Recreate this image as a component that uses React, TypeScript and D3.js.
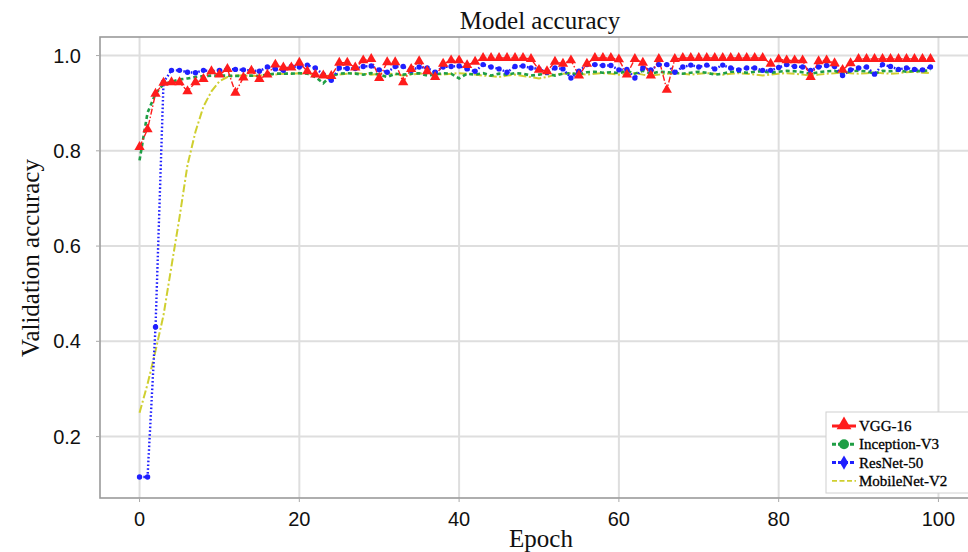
import React from 'react';
import * as d3 from 'd3';

// validation accuracy per epoch
const vgg16 = [
  0.808, 0.845, 0.92, 0.943, 0.944, 0.944, 0.925, 0.944, 0.951, 0.967,
  0.96, 0.972, 0.922, 0.954, 0.968, 0.951, 0.96, 0.981, 0.975, 0.975,
  0.985, 0.967, 0.96, 0.958, 0.957, 0.985, 0.985, 0.975, 0.99, 0.993,
  0.953, 0.986, 0.986, 0.944, 0.972, 0.988, 0.967, 0.955, 0.983, 0.99,
  0.99, 0.98, 0.987, 0.995, 0.995, 0.995, 0.995, 0.995, 0.995, 0.993,
  0.97, 0.967, 0.987, 0.983, 0.99, 0.958, 0.983, 0.995, 0.995, 0.995,
  0.992, 0.96, 0.993, 0.985, 0.958, 0.993, 0.928, 0.993, 0.995, 0.995,
  0.995, 0.995, 0.995, 0.995, 0.995, 0.995, 0.995, 0.995, 0.995, 0.983,
  0.992, 0.99, 0.99, 0.99, 0.955, 0.988, 0.99, 0.984, 0.97, 0.984,
  0.993, 0.993, 0.993, 0.993, 0.993, 0.993, 0.993, 0.993, 0.993, 0.993,
];

const inceptionV3 = [
  0.78, 0.88, 0.92, 0.94, 0.945, 0.95, 0.952, 0.955, 0.957, 0.958,
  0.958, 0.958, 0.957, 0.958, 0.958, 0.957, 0.96, 0.962, 0.962, 0.962,
  0.963, 0.962, 0.955, 0.942, 0.958, 0.962, 0.963, 0.962, 0.96, 0.963,
  0.96, 0.955, 0.962, 0.96, 0.962, 0.963, 0.958, 0.96, 0.963, 0.962,
  0.952, 0.962, 0.96, 0.963, 0.958, 0.962, 0.96, 0.963, 0.962, 0.958,
  0.96, 0.962, 0.958, 0.962, 0.963, 0.96, 0.965, 0.966, 0.964, 0.965,
  0.963, 0.968, 0.962, 0.968, 0.962, 0.966, 0.965, 0.964, 0.962, 0.964,
  0.966, 0.964, 0.96, 0.962, 0.966, 0.966, 0.964, 0.966, 0.967, 0.964,
  0.966, 0.968, 0.967, 0.965, 0.962, 0.965, 0.967, 0.968, 0.962, 0.967,
  0.968, 0.967, 0.962, 0.968, 0.967, 0.969, 0.966, 0.968, 0.967, 0.97,
];

const resNet50 = [
  0.115, 0.115, 0.43, 0.944, 0.969, 0.969, 0.965, 0.964, 0.969, 0.967,
  0.969, 0.972, 0.971, 0.97, 0.969, 0.967, 0.976, 0.972, 0.969, 0.977,
  0.976, 0.98, 0.974, 0.96, 0.948, 0.974, 0.973, 0.973, 0.977, 0.978,
  0.97, 0.965, 0.977, 0.977, 0.969, 0.976, 0.974, 0.965, 0.976, 0.977,
  0.978, 0.972, 0.967, 0.981, 0.976, 0.972, 0.965, 0.977, 0.978, 0.974,
  0.972, 0.965, 0.974, 0.972, 0.953, 0.967, 0.981, 0.981, 0.979, 0.979,
  0.97, 0.971, 0.953, 0.974, 0.97, 0.981, 0.981, 0.965, 0.976, 0.98,
  0.976, 0.98, 0.972, 0.98, 0.974, 0.97, 0.974, 0.974, 0.969, 0.969,
  0.975, 0.981, 0.977, 0.976, 0.969, 0.976, 0.979, 0.977, 0.958, 0.97,
  0.974, 0.976, 0.961, 0.981, 0.977, 0.971, 0.974, 0.971, 0.97, 0.976,
];

const mobileNetV2 = [
  0.25, 0.31, 0.38, 0.455, 0.558, 0.66, 0.77, 0.84, 0.893, 0.925,
  0.946, 0.955, 0.958, 0.958, 0.957, 0.958, 0.96, 0.96, 0.962, 0.962,
  0.963, 0.962, 0.96, 0.958, 0.957, 0.96, 0.962, 0.963, 0.962, 0.96,
  0.962, 0.963, 0.96, 0.958, 0.96, 0.962, 0.963, 0.962, 0.96, 0.962,
  0.963, 0.962, 0.96, 0.958, 0.957, 0.955, 0.958, 0.96, 0.957, 0.955,
  0.952, 0.955, 0.96, 0.962, 0.963, 0.962, 0.96, 0.962, 0.963, 0.962,
  0.96, 0.962, 0.963, 0.96, 0.958, 0.96, 0.962, 0.963, 0.962, 0.96,
  0.962, 0.963, 0.962, 0.96, 0.962, 0.963, 0.962, 0.96, 0.958, 0.96,
  0.962, 0.963, 0.962, 0.96, 0.958, 0.96, 0.962, 0.963, 0.965, 0.963,
  0.962, 0.963, 0.965, 0.963, 0.962, 0.963, 0.965, 0.966, 0.964, 0.963,
];

const xTicks = [0, 20, 40, 60, 80, 100];
const yTicks = [0.2, 0.4, 0.6, 0.8, 1.0];
const seriesNames = ['VGG-16', 'Inception-V3', 'ResNet-50', 'MobileNet-V2'];

const W = 968;
const H = 552;
const plot = { left: 100, top: 37, right: 970, bottom: 498 };
const serif = '"Liberation Serif", "Times New Roman", serif';
const sans = '"Liberation Sans", Arial, sans-serif';

const styles = [
  { color: '#ff1c1c', width: 1.4, dash: '6,2,1.5,2', marker: 'triangle' },
  { color: '#1f9e45', width: 2.6, dash: '4,3', marker: 'circle' },
  { color: '#2020ff', width: 2.4, dash: '1.6,2.2', marker: 'diamond' },
  { color: '#cfcf30', width: 2, dash: '8,2.5,2,2.5', marker: 'none' },
];

export default function App() {
  const x = d3.scaleLinear().domain([-4.95, 103.95]).range([plot.left, plot.right]);
  const y = d3.scaleLinear().domain([0.071, 1.039]).range([plot.bottom, plot.top]);
  const data = [vgg16, inceptionV3, resNet50, mobileNetV2];

  const line = d3.line<number>()
    .x((_, i) => x(i))
    .y(d => y(d));

  const tri = d3.symbol().type(d3.symbolTriangle).size(46)();
  const triBig = d3.symbol().type(d3.symbolTriangle).size(95)();
  const diamond = d3.symbol().type(d3.symbolDiamond).size(60)();

  const legendX = 826;
  const legendY = 412;

  return (
    <svg width={W} height={H} style={{ position: 'absolute', left: 0, top: 0, background: '#fff' }}>
      {/* grid */}
      {xTicks.map(t => (
        <line key={'gx' + t} x1={x(t)} x2={x(t)} y1={plot.top} y2={plot.bottom}
          stroke="#dedede" strokeWidth={2} />
      ))}
      {yTicks.map(t => (
        <line key={'gy' + t} x1={plot.left} x2={plot.right} y1={y(t)} y2={y(t)}
          stroke="#dedede" strokeWidth={2} />
      ))}

      {/* frame + ticks */}
      <rect x={plot.left} y={plot.top} width={plot.right - plot.left} height={plot.bottom - plot.top}
        fill="none" stroke="#9a9a9a" strokeWidth={1.6} />
      {xTicks.map(t => (
        <line key={'tx' + t} x1={x(t)} x2={x(t)} y1={plot.bottom} y2={plot.bottom + 4}
          stroke="#aaa" strokeWidth={1} />
      ))}
      {yTicks.map(t => (
        <line key={'ty' + t} x1={plot.left - 4} x2={plot.left} y1={y(t)} y2={y(t)}
          stroke="#aaa" strokeWidth={1} />
      ))}

      {/* series lines, drawn back to front */}
      {[3, 1, 2, 0].map(k => (
        <path key={'s' + k} d={line(data[k]) || ''} fill="none"
          stroke={styles[k].color} strokeWidth={styles[k].width} strokeDasharray={styles[k].dash} />
      ))}
      {resNet50.map((v, i) => (
        <circle key={'rb' + i} cx={x(i)} cy={y(v)} r={2.7} fill={styles[2].color} />
      ))}
      {vgg16.map((v, i) => (
        <path key={'rv' + i} d={tri || ''} transform={`translate(${x(i)},${y(v)})`} fill={styles[0].color} />
      ))}

      {/* tick labels */}
      {xTicks.map(t => (
        <text key={'lx' + t} x={x(t)} y={526} textAnchor="middle" fontFamily={sans} fontSize={20} fill="#111">
          {t}
        </text>
      ))}
      {yTicks.map(t => (
        <text key={'ly' + t} x={81} y={y(t) + 7} textAnchor="end" fontFamily={sans} fontSize={20} fill="#111">
          {t.toFixed(1)}
        </text>
      ))}

      {/* titles */}
      <text x={540} y={29} textAnchor="middle" fontFamily={serif} fontSize={25} fill="#111">Model accuracy</text>
      <text x={541} y={547} textAnchor="middle" fontFamily={serif} fontSize={25} fill="#111">Epoch</text>
      <text transform="translate(39,258) rotate(-90)" textAnchor="middle" fontFamily={serif} fontSize={25} fill="#111">
        Validation accuracy
      </text>

      {/* legend */}
      <rect x={legendX} y={legendY} width={160} height={81} fill="#fff" stroke="#d0d0d0" strokeWidth={1} />
      {seriesNames.map((name, i) => {
        const cy = legendY + 14 + i * 18.3;
        const s = styles[i];
        return (
          <g key={'lg' + name}>
            <line x1={legendX + 6} x2={legendX + 30} y1={cy} y2={cy} stroke={s.color}
              strokeWidth={i === 3 ? 1.6 : 3} strokeDasharray={i === 3 ? '5,2.5' : i === 0 ? '' : '4,2'} />
            {s.marker === 'triangle' && (
              <path d={triBig || ''} transform={`translate(${legendX + 18},${cy - 1})`} fill={s.color} />
            )}
            {s.marker === 'circle' && <circle cx={legendX + 18} cy={cy} r={5} fill={s.color} />}
            {s.marker === 'diamond' && (
              <path d={diamond || ''} transform={`translate(${legendX + 18},${cy})`} fill={s.color} />
            )}
            <text x={legendX + 33} y={cy + 5} fontFamily={serif} fontSize={15} fill="#000"
              stroke="#000" strokeWidth={0.3}>{name}</text>
          </g>
        );
      })}
    </svg>
  );
}
